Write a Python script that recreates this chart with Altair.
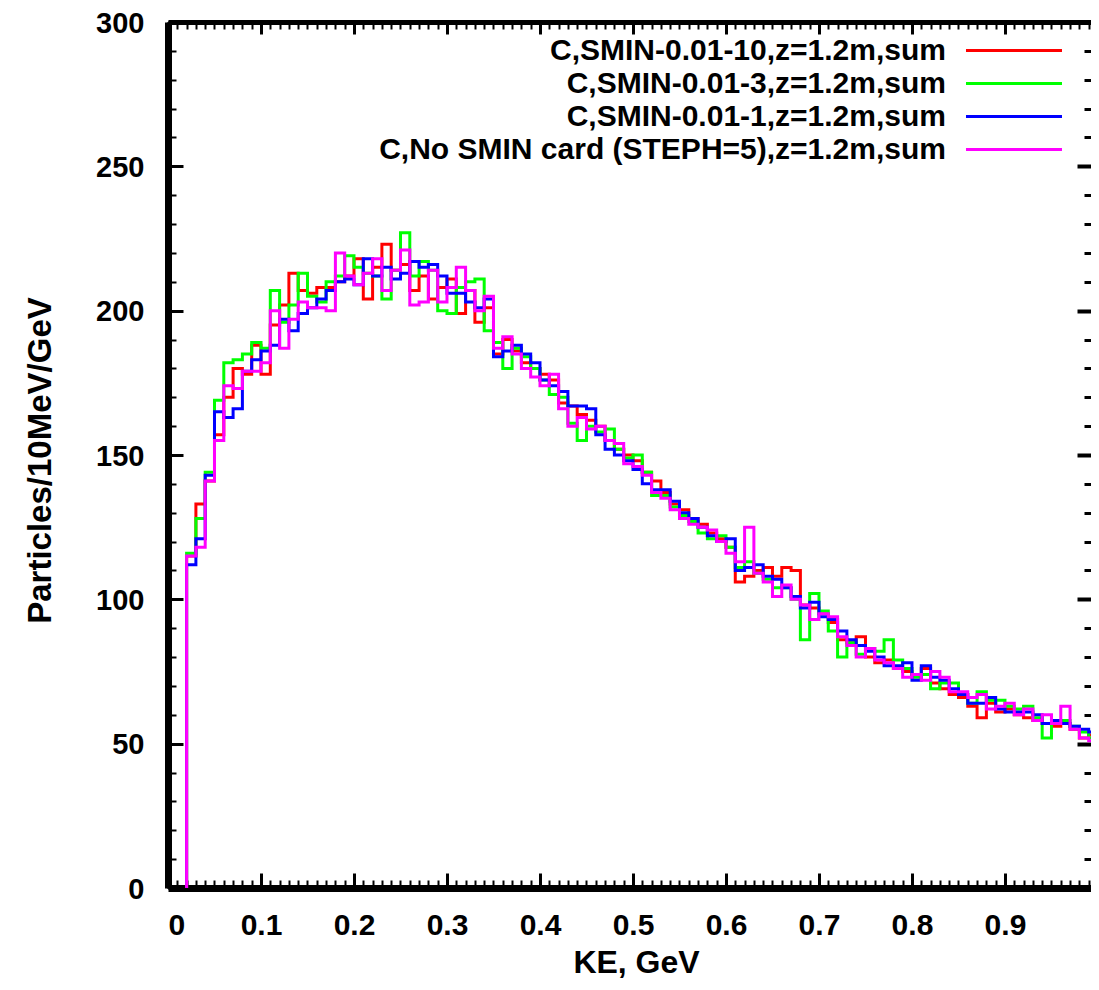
import altair as alt
import pandas as pd

# ---- data (bins of 10 MeV, left edges 0.02 ... 0.99 GeV) ----
bin_starts = [round(0.02 + 0.01 * i, 2) for i in range(98)]
bin_end = 1.0

series_names = [
    "C,SMIN-0.01-10,z=1.2m,sum",
    "C,SMIN-0.01-3,z=1.2m,sum",
    "C,SMIN-0.01-1,z=1.2m,sum",
    "C,No SMIN card (STEPH=5),z=1.2m,sum",
]
series_colors = ["#ff0000", "#00ff00", "#0000ff", "#ff00ff"]

red = [115, 133, 141, 157, 170, 180, 178, 188, 178, 195,
       202, 213, 207, 206, 208, 208, 210, 212, 218, 204,
       215, 223, 214, 216, 207, 212, 204, 208, 211, 199,
       207, 196, 201, 185, 190, 186, 182, 180, 178, 176,
       168, 167, 164, 162, 160, 155, 152, 150, 148, 144,
       141, 137, 133, 131, 128, 126, 123, 121, 118, 106,
       108, 110, 111, 108, 111, 110, 98, 97, 95, 92,
       86, 85, 87, 80, 78, 79, 76, 75, 74, 76,
       71, 69, 67, 66, 63, 59, 64, 61, 62, 60,
       59, 58, 57, 56, 57, 55, 52, 53]
green = [116, 128, 144, 169, 182, 183, 185, 189, 187, 207,
         196, 202, 213, 205, 203, 210, 212, 219, 215, 213,
         212, 204, 214, 227, 212, 217, 214, 200, 199, 208,
         210, 211, 193, 189, 180, 187, 184, 180, 176, 171,
         170, 161, 155, 160, 158, 159, 152, 149, 150, 144,
         136, 136, 132, 129, 127, 123, 121, 122, 118, 111,
         113, 109, 107, 104, 104, 100, 86, 102, 96, 89,
         80, 85, 81, 83, 82, 86, 79, 76, 73, 74,
         69, 71, 71, 67, 64, 68, 65, 65, 63, 62,
         63, 59, 52, 57, 58, 56, 54, 52]
blue = [112, 121, 143, 165, 163, 166, 179, 183, 186, 188,
        197, 193, 199, 201, 204, 207, 210, 211, 209, 218,
        212, 215, 211, 213, 217, 215, 216, 212, 206, 206,
        203, 201, 204, 184, 186, 188, 185, 182, 176, 174,
        172, 167, 167, 166, 157, 152, 150, 148, 145, 140,
        138, 138, 134, 130, 128, 125, 122, 120, 121, 110,
        111, 112, 108, 107, 104, 101, 97, 99, 94, 93,
        89, 86, 84, 82, 80, 77, 77, 78, 72, 77,
        73, 72, 69, 67, 64, 64, 66, 62, 61, 61,
        61, 60, 57, 58, 57, 56, 55, 54]
magenta = [115, 118, 141, 155, 174, 173, 179, 179, 182, 200,
           187, 197, 203, 201, 201, 200, 220, 212, 209, 213,
           218, 207, 214, 221, 202, 203, 214, 203, 208, 215,
           207, 200, 205, 187, 191, 185, 180, 177, 174, 178,
           166, 160, 163, 159, 160, 155, 154, 147, 146, 143,
           137, 135, 131, 128, 126, 125, 124, 120, 116, 113,
           125, 109, 106, 101, 105, 100, 98, 93, 95, 94,
           87, 84, 80, 83, 79, 78, 76, 73, 74, 72,
           75, 73, 68, 68, 66, 67, 62, 63, 64, 60,
           62, 58, 60, 57, 63, 55, 52, 51]

x_major = [round(0.1 * i, 1) for i in range(11)]
x_minor = [round(0.01 * i, 2) for i in range(101)]
y_major = [0, 50, 100, 150, 200, 250, 300]
y_minor = list(range(0, 301, 10))

# ---- build a long table of step outlines ----
rows = []
for s, vals in zip(series_names, [red, green, blue, magenta]):
    k = 0
    rows.append({"series": s, "x": bin_starts[0], "y": 0, "k": k}); k += 1
    for xs, v in zip(bin_starts, vals):
        rows.append({"series": s, "x": xs, "y": v, "k": k}); k += 1
    rows.append({"series": s, "x": bin_end, "y": vals[-1], "k": k})
df = pd.DataFrame(rows)

FONT = "Liberation Sans"
# the reference frame runs a few pixels past the picture's right edge:
# the visible part of the x range ends just short of 1.0
W, H = 923, 866
X_VISIBLE_MAX = 0.9925
xscale = alt.Scale(domain=[0, X_VISIBLE_MAX], nice=False, zero=False)
yscale = alt.Scale(domain=[0, 300], nice=False, zero=False)

# legend sample: a horizontal stroke drawn to the right of the (right-aligned) label
legend_path = "M 2.433 0 L 8.833 0"

main = alt.Chart(df).mark_line(interpolate="step-after", strokeWidth=3, clip=True).encode(
    x=alt.X("x:Q", scale=xscale,
            axis=alt.Axis(orient="bottom", values=x_major, format=".1~f", ticks=False, grid=False,
                          domain=True, domainColor="black", domainWidth=7,
                          labelFont=FONT, labelFontSize=30, labelFontWeight="bold", labelColor="black",
                          labelPadding=22, labelBaseline="top",
                          title="KE, GeV", titleFont=FONT, titleFontSize=32, titleFontWeight="bold",
                          titleColor="black", titleX=468, titleY=74, titleBaseline="middle",
                          titleAlign="center")),
    y=alt.Y("y:Q", scale=yscale,
            axis=alt.Axis(orient="left", values=y_major, format="d", ticks=False, grid=False,
                          domain=True, domainColor="black", domainWidth=7,
                          labelFont=FONT, labelFontSize=29, labelFontWeight="bold", labelColor="black",
                          labelPadding=24, labelOffset=1,
                          title="Particles/10MeV/GeV", titleFont=FONT, titleFontSize=33,
                          titleFontWeight="bold", titleColor="black", titleAngle=270,
                          titleX=-128, titleY=438, titleBaseline="middle", titleAlign="center")),
    color=alt.Color("series:N", sort=series_names,
                    scale=alt.Scale(domain=series_names, range=series_colors),
                    legend=alt.Legend(orient="none", legendX=745, legendY=12, title=None,
                                      symbolType=legend_path, symbolSize=900, symbolStrokeWidth=3,
                                      rowPadding=1, padding=0,
                                      labelFont=FONT, labelFontSize=30, labelFontWeight="bold",
                                      labelColor="black", labelAlign="right", labelOffset=0,
                                      labelLimit=1000)),
    detail="series:N",
    order=alt.Order("k:Q"),
)


def tick_layer(xorient, yorient, xsize, ysize, xvals, yvals, xwidth, ywidth):
    return alt.Chart(df).mark_point(opacity=0).encode(
        x=alt.X("x:Q", scale=xscale,
                axis=alt.Axis(orient=xorient, values=xvals, labels=False, domain=False, grid=False,
                              ticks=True, tickSize=xsize, tickWidth=xwidth, tickColor="black",
                              offset=-xsize, title="")),
        y=alt.Y("y:Q", scale=yscale,
                axis=alt.Axis(orient=yorient, values=yvals, labels=False, domain=False, grid=False,
                              ticks=True, tickSize=ysize, tickWidth=ywidth, tickColor="black",
                              offset=-ysize, title="")),
    )


frame = alt.Chart(df).mark_point(opacity=0).encode(
    x=alt.X("x:Q", scale=xscale,
            axis=alt.Axis(orient="top", labels=False, ticks=False, grid=False, domain=True,
                          domainColor="black", domainWidth=5, title="")),
)

layers = [
    tick_layer("bottom", "left", 15, 15, x_major, y_major, 3, 3),
    tick_layer("bottom", "left", 8, 8, x_minor, y_minor, 2, 2),
    tick_layer("top", "right", 12, 14, x_major, y_major, 3, 4),
    tick_layer("top", "right", 7, 7, x_minor, y_minor, 2, 3),
    frame,
    main,
]

chart = alt.layer(*layers).resolve_axis(x="independent", y="independent").properties(
    width=W, height=H,
    autosize=alt.AutoSizeParams(type="none"),
    padding={"left": 160, "top": 14, "right": 0, "bottom": 92},
    background="white",
).configure_view(stroke=None)

chart.save("out.html", embed_options={"renderer": "svg", "actions": False})
